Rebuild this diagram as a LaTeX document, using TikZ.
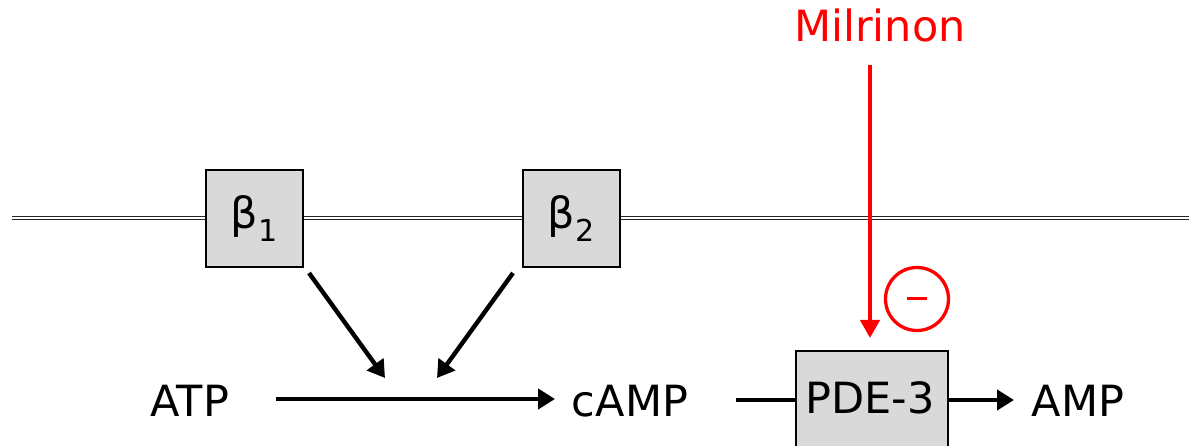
\documentclass[tikz,border=0pt]{standalone}
\usepackage{fontspec}
\setmainfont{DejaVu Sans}
\usetikzlibrary{arrows.meta}
\definecolor{boxgrey}{HTML}{D9D9D9}
\definecolor{milred}{HTML}{FF0000}
\tikzset{
  enzyme/.style={draw=black, line width=1.8pt, fill=boxgrey, inner sep=0pt},
  label/.style={inner sep=0pt, font=\fontsize{43}{48}\selectfont},
  flow/.style={line width=4.4pt, -{Triangle[length=17pt,width=20pt]}},
  inhib/.style={draw=milred, line width=4.2pt, -{Triangle[length=18pt,width=19pt]}},
}
\begin{document}
\begin{tikzpicture}[x=1pt,y=-1pt]
  \useasboundingbox (0,0) rectangle (1189,446);
  \clip (0,0) rectangle (1189,446);

  % membrane (double line)
  \draw[line width=4.4pt, color=black!85] (12,218) -- (1189,218);
  \draw[line width=1.2pt, white] (12,218) -- (1189,218);

  % receptors
  \node[enzyme, minimum width=97pt, minimum height=97pt] (b1) at (254.5,218.5)
    {\fontsize{43}{48}\selectfont β\textsubscript{1}};
  \node[enzyme, minimum width=97pt, minimum height=97pt] (b2) at (571.5,218.5)
    {\fontsize{43}{48}\selectfont β\textsubscript{2}};

  % metabolites
  \node[label] (atp) at (190,401) {ATP};
  \node[label] (camp) at (630,401) {cAMP};
  \node[label] (amp) at (1078,401) {AMP};

  % phosphodiesterase
  \node[enzyme, minimum width=152pt, minimum height=110pt, anchor=north] (pde) at (872,350) {};
  \node[label] (pdelabel) at (870,398) {PDE-3};

  % drug and inhibition
  \node[label, text=milred] (mil) at (880,25) {Milrinon};
  \coordinate (milstart) at (870,65);
  \coordinate (miltip) at (870,338);
  \draw[inhib] (milstart) -- (miltip);
  \node[draw=milred, line width=3.3pt, circle, minimum size=63pt, inner sep=0pt] (minus) at (917,299) {};
  \draw[milred, line width=3pt] ([xshift=-10pt]minus.center) -- ([xshift=10pt]minus.center);

  % reaction arrows
  \coordinate (atpout) at (276,399);
  \coordinate (campin) at (555,399);
  \draw[flow] (atpout) -- (campin);
  \coordinate (b1out) at (309,273);
  \coordinate (b1in) at (385,378);
  \coordinate (b2out) at (513,273);
  \coordinate (b2in) at (437,378);
  \draw[flow] (b1out) -- (b1in);
  \draw[flow] (b2out) -- (b2in);
  \coordinate (campout) at (736,400);
  \draw[line width=4.4pt] (campout) -- (pde.west |- campout);
  \coordinate (ampin) at (1014,400);
  \draw[flow] (pde.east |- ampin) -- (ampin);
\end{tikzpicture}
\end{document}
